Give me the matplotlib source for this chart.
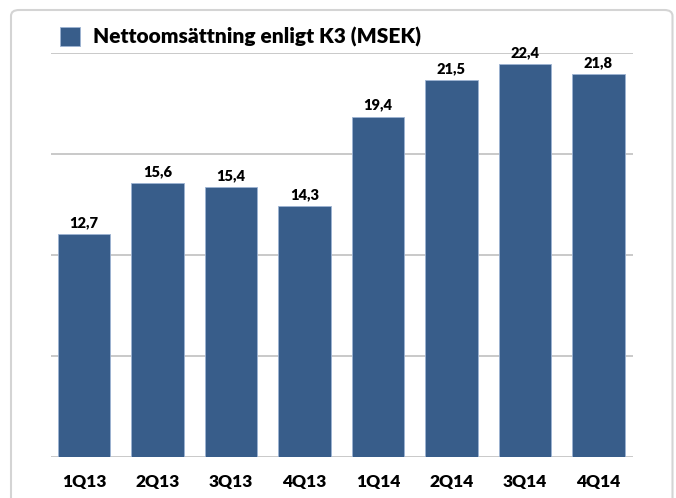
import matplotlib.pyplot as plt
from matplotlib.patches import FancyBboxPatch, Patch

# Data
quarters = ["1Q13", "2Q13", "3Q13", "4Q13", "1Q14", "2Q14", "3Q14", "4Q14"]
net_sales = [12.7, 15.6, 15.4, 14.3, 19.4, 21.5, 22.4, 21.8]
value_labels = ["12,7", "15,6", "15,4", "14,3", "19,4", "21,5", "22,4", "21,8"]
series_name = "Nettoomsättning enligt K3 (MSEK)"

BAR_COLOR = "#385D8A"
GRID_COLOR = "#C9C9C9"

plt.rcParams["font.family"] = ["Lato", "DejaVu Sans"]

fig = plt.figure(figsize=(6.76, 4.98), dpi=100)

# outer rounded frame (runs off the bottom of the image)
frame = FancyBboxPatch(
    (11 / 676, -0.05), (672.5 - 11) / 676, (498 - 10) / 498 + 0.05,
    boxstyle="round,pad=0,rounding_size=0.012",
    transform=fig.transFigure, facecolor="none", edgecolor="#D4D4D4",
    linewidth=1.5, zorder=0,
)
fig.patches.append(frame)

ax = fig.add_axes([50.6 / 676, 40.7 / 498, 582 / 676, 404 / 498])
ax.set_facecolor("none")

x = range(len(quarters))
bars = ax.bar(x, net_sales, width=0.716, color=BAR_COLOR,
              edgecolor="#9DB3D3", linewidth=0.6, zorder=3)
ax.bar_label(bars, labels=value_labels, padding=3.5, fontsize=10.5,
             fontweight="heavy", color="black")

ax.set_xlim(-0.455, 7.465)
ax.set_ylim(0, 23)
ax.set_yticks([0, 5.75, 11.5, 17.25, 23])
ax.yaxis.grid(True, color=GRID_COLOR, linewidth=1.4, zorder=0)
ax.tick_params(axis="y", left=False, labelleft=False)
ax.set_xticks(list(x))
ax.set_xticklabels(quarters, fontsize=12.5, fontweight="heavy")
ax.tick_params(axis="x", length=0, pad=12)
for side in ["top", "right", "left", "bottom"]:
    ax.spines[side].set_visible(False)

ax.legend(
    handles=[Patch(facecolor=BAR_COLOR, edgecolor="#9DB3D3", linewidth=0.6)],
    labels=[series_name],
    loc="center left", bbox_to_anchor=(9 / 582, 1 + 16.5 / 404),
    frameon=False, handlelength=1.0, handleheight=1.0,
    handletextpad=0.62, borderaxespad=0, borderpad=0,
    prop={"weight": "heavy", "size": 15},
)

fig.savefig("out.png", dpi=100)
